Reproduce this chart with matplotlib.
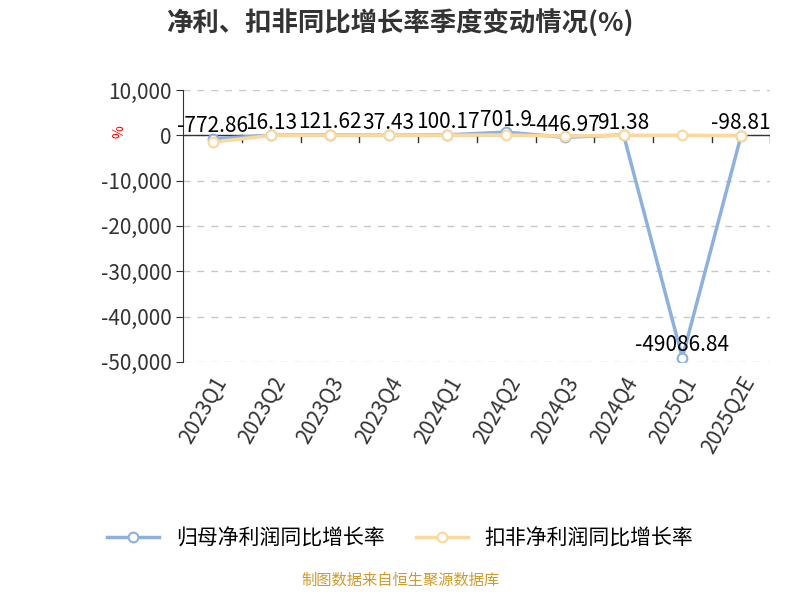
import matplotlib
matplotlib.use("Agg")
import matplotlib.pyplot as plt

plt.rcParams["font.family"] = ["Noto Sans CJK SC", "DejaVu Sans"]

quarters = ["2023Q1", "2023Q2", "2023Q3", "2023Q4", "2024Q1", "2024Q2",
            "2024Q3", "2024Q4", "2025Q1", "2025Q2E"]
net_growth = [-772.86, 16.13, 121.62, 37.43, 100.17, 701.9, -446.97, 91.38, -49086.84, -98.81]
deducted_growth = [-1500, -20, 50, 10, 30, 80, -200, 20, 0, -50]
labels = ["-772.86", "16.13", "121.62", "37.43", "100.17", "701.9", "-446.97", "91.38", "-49086.84", "-98.81"]

blue = "#8eb0dd"
orange = "#fbd89c"

fig = plt.figure(figsize=(8, 6), dpi=100)
ax = fig.add_axes([0.229, 0.397, 0.734, 0.453])
x = list(range(len(quarters)))

ax.plot(x, net_growth, color=blue, lw=2.5, marker="o", ms=7,
        mfc="white", mec=blue, mew=1.5, zorder=3)
ax.plot(x, deducted_growth, color=orange, lw=2.5, marker="o", ms=7,
        mfc="white", mec=orange, mew=1.5, zorder=4)
for i, (v, t) in enumerate(zip(net_growth, labels)):
    ax.text(i, v + 300, t, ha="center", va="bottom", fontsize=15, zorder=5)

ax.set_xlim(-0.5, len(quarters) - 0.5)
ax.set_ylim(-50000, 10000)
ax.set_yticks(range(-50000, 10001, 10000))
ax.set_yticklabels([f"{v:,}" for v in range(-50000, 10001, 10000)], fontsize=15, color="#333333")
ax.set_xticks(x)
ax.set_xticklabels(quarters, rotation=60, ha="right", rotation_mode="anchor", fontsize=15, color="#333333")
ax.grid(axis="y", ls=(0, (5, 5)), color="#c8c8c8", lw=1)
for s in ["top", "right", "bottom"]:
    ax.spines[s].set_visible(False)
ax.spines["left"].set_color("#333333")
ax.axhline(0, color="#333333", lw=1, zorder=2)
for i in x:
    ax.plot([i + 0.5, i + 0.5], [0, -1500], color="#333333", lw=1, zorder=2)
ax.tick_params(axis="x", length=0, pad=8)
ax.tick_params(axis="y", length=5, color="#333333")

fig.text(0.15, 0.78, "%", color="red", fontsize=10, rotation=90, ha="center", va="center")
fig.text(0.5, 0.96, "净利、扣非同比增长率季度变动情况(%)", ha="center", va="center",
         fontsize=19, fontweight="bold", color="#333333")

ax.legend(["归母净利润同比增长率", "扣非净利润同比增长率"], loc="center",
          bbox_to_anchor=(0.37, -0.65), ncol=2, frameon=False, fontsize=15,
          handlelength=2.5, columnspacing=1.5)
fig.text(0.5, 0.018, "制图数据来自恒生聚源数据库", ha="center", va="bottom",
         fontsize=11, color="#d19a2a")

fig.savefig("out.png", dpi=100)
